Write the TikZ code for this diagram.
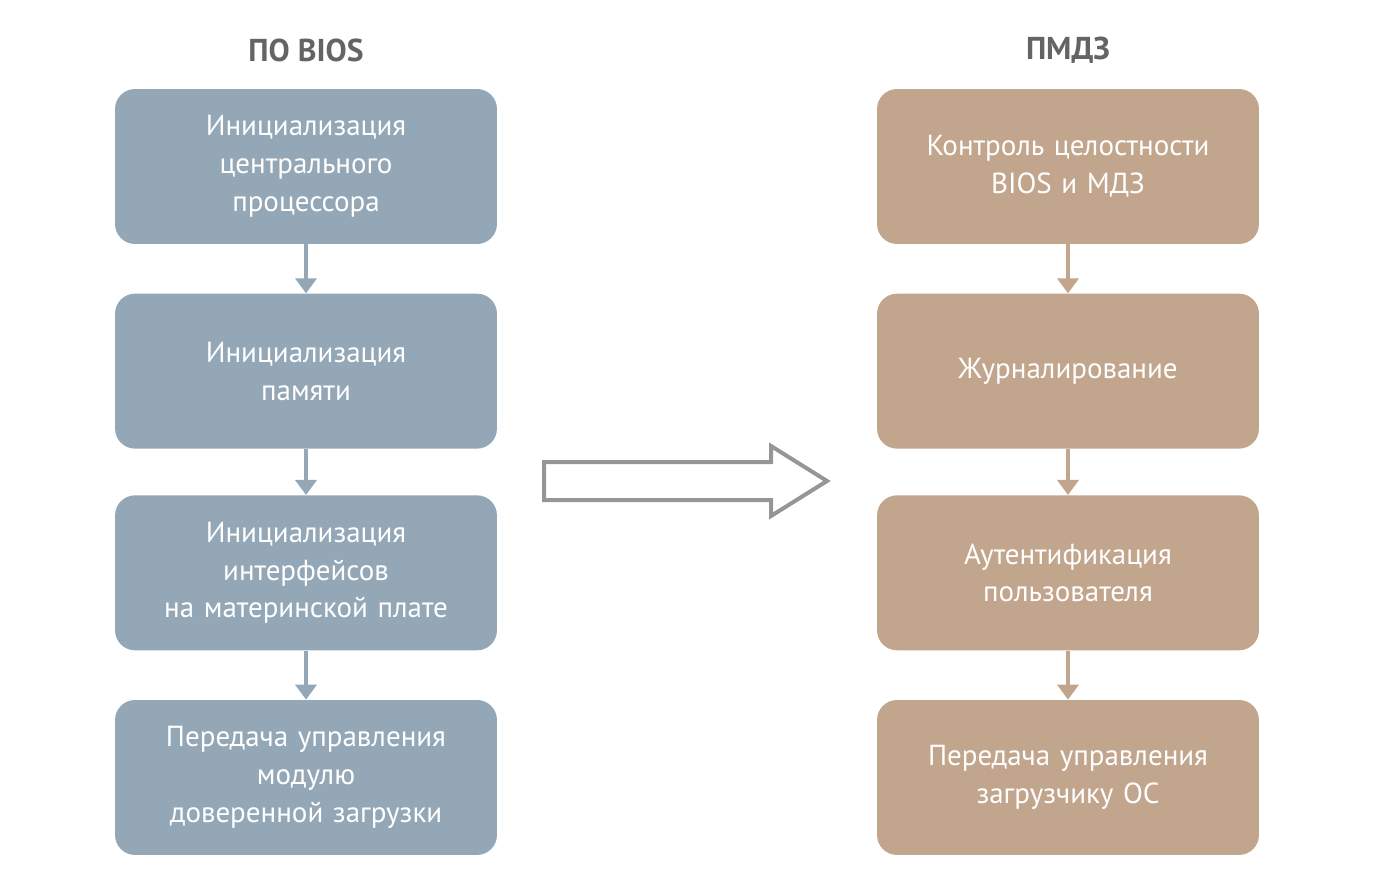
\documentclass[tikz,border=0pt]{standalone}
\usepackage{fontspec}
\setmainfont{PT Sans}
\usetikzlibrary{positioning, arrows.meta}
\definecolor{biosblue}{RGB}{148,167,182}
\definecolor{pmdztan}{RGB}{194,165,141}
\definecolor{titlegray}{RGB}{100,100,100}
\definecolor{arrowgray}{RGB}{150,150,150}
\begin{document}
\begin{tikzpicture}[x=0.02cm, y=-0.02cm,
    node distance=0.98cm,
    stage/.style={rectangle, rounded corners=0.4cm, minimum width=7.64cm, minimum height=3.1cm,
      text width=7.4cm, align=center, text=white, font=\fontsize{16.5}{21.5}\selectfont},
    bios/.style={stage, fill=biosblue},
    pmdz/.style={stage, fill=pmdztan},
    head/.style={font=\fontsize{18}{22}\selectfont\bfseries, text=titlegray},
    flow/.style={-{Triangle[length=0.3cm, width=0.42cm]}, line width=0.09cm}
  ]
  \useasboundingbox (0,0) rectangle (1386,888);

  % left column
  \node[head] (tbios) at (306,50) {ПО BIOS};
  \node[bios] (cpu) at (306,166.5) {Инициализация\\центрального\\процессора};
  \node[bios, below=of cpu] (mem) {Инициализация\\памяти};
  \node[bios, below=0.92cm of mem] (iface) {Инициализация\\интерфейсов\\на материнской плате};
  \node[bios, below=of iface] (handoff) {Передача управления\\модулю\\доверенной загрузки};

  % right column
  \node[head] (tpmdz) at (1068,50) {ПМДЗ};
  \node[pmdz] (check) at (1068,166.5) {Контроль целостности\\BIOS и МДЗ};
  \node[pmdz, below=of check] (log) {Журналирование};
  \node[pmdz, below=0.92cm of log] (auth) {Аутентификация\\пользователя};
  \node[pmdz, below=of auth] (boot) {Передача управления\\загрузчику ОС};

  %%% VERTICAL FLOW
  \draw[flow, biosblue] (cpu) -- (mem);
  \draw[flow, biosblue] (mem) -- (iface);
  \draw[flow, biosblue] (iface) -- (handoff);
  \draw[flow, pmdztan] (check) -- (log);
  \draw[flow, pmdztan] (log) -- (auth);
  \draw[flow, pmdztan] (auth) -- (boot);

  %%% BIG HOLLOW ARROW
  \draw[arrowgray, line width=0.08cm, line join=miter]
    (544,462) -- (771,462) -- (771,446) -- (827,481) -- (771,516) -- (771,500) -- (544,500) -- cycle;
\end{tikzpicture}
\end{document}
